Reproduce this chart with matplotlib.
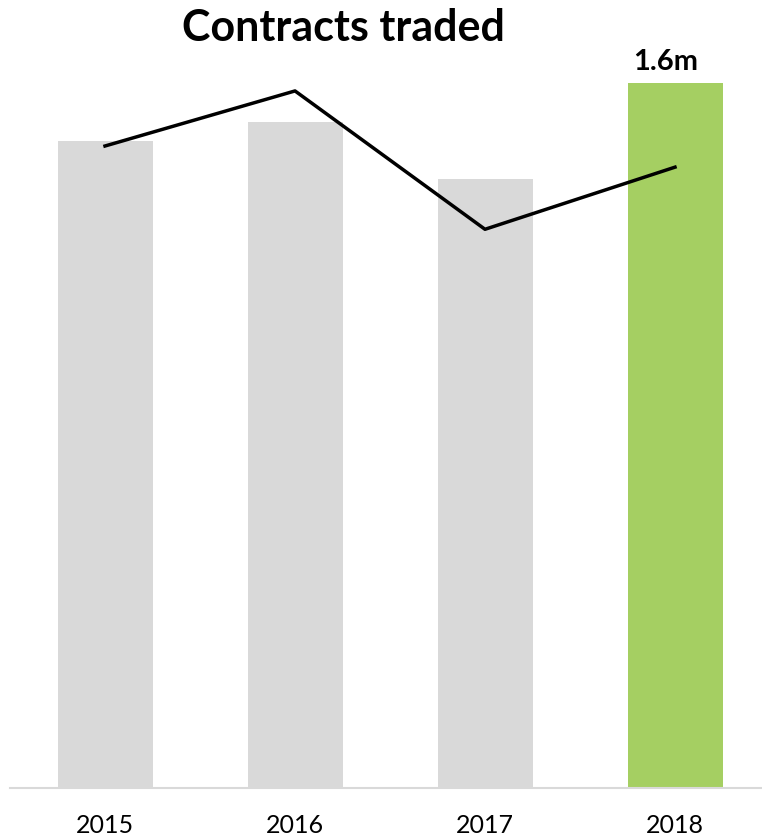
import matplotlib
matplotlib.use('Agg')
import matplotlib.pyplot as plt

years = ['2015', '2016', '2017', '2018']
contracts = [1.468, 1.511, 1.382, 1.600]   # bars, in millions
trend = [1.457, 1.582, 1.268, 1.409]       # black line, same scale
label_2018 = '1.6m'

plt.rcParams['font.family'] = ['Lato', 'DejaVu Sans']

W, H = 762, 838
fig = plt.figure(figsize=(W / 100, H / 100), dpi=100)
# plot area in pixels: x 10..770 (runs past the right edge), y 83..788 from top
ax = fig.add_axes([10 / W, (H - 788) / H, 760 / W, 705 / H])

x = list(range(len(years)))
colors = ['#d9d9d9', '#d9d9d9', '#d9d9d9', '#a5cf62']
ax.bar(x, contracts, width=0.5, color=colors, zorder=2)
ax.plot(x, trend, color='black', lw=2.5, zorder=3, clip_on=False)

ax.set_xlim(-0.5, 3.5)
ax.set_ylim(0, 1.6)

for s in ['top', 'right', 'left']:
    ax.spines[s].set_visible(False)
ax.spines['bottom'].set_color('#d9d9d9')
ax.spines['bottom'].set_linewidth(1.5)
ax.set_yticks([])
ax.set_xticks(x)
ax.set_xticklabels(years, fontsize=18)
ax.tick_params(axis='x', length=0, pad=19)

# label sits a little left of the bar centre, like in the source
ax.annotate(label_2018, (3, contracts[3]), xytext=(-7, 6), textcoords='offset points',
            ha='center', va='bottom', fontsize=21, fontweight='bold')

fig.text(343 / W, 1 - 28 / H, 'Contracts traded', ha='center', va='center',
         fontsize=31, fontweight='bold')

fig.savefig('out.png', dpi=100)
